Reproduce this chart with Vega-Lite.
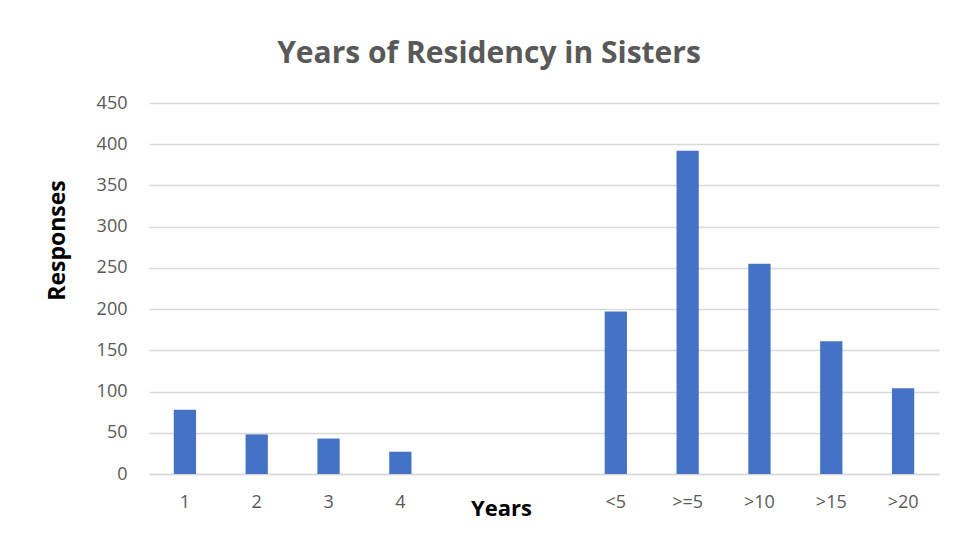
{
  "$schema": "https://vega.github.io/schema/vega-lite/v6.json",
  "width": 790,
  "height": 371,
  "autosize": "none",
  "padding": {"left": 149, "top": 103, "right": 17, "bottom": 70},
  "background": "white",
  "title": {
    "text": "Years of Residency in Sisters",
    "font": "Open Sans",
    "fontSize": 30,
    "fontWeight": "bold",
    "color": "#595959",
    "anchor": "middle",
    "dx": -55,
    "offset": 25
  },
  "data": {
    "values": [
      {"years": "1", "responses": 78},
      {"years": "2", "responses": 48},
      {"years": "3", "responses": 43},
      {"years": "4", "responses": 27},
      {"years": "<5", "responses": 197},
      {"years": ">=5", "responses": 392},
      {"years": ">10", "responses": 255},
      {"years": ">15", "responses": 161},
      {"years": ">20", "responses": 104}
    ]
  },
  "mark": {"type": "bar", "color": "#4472C4"},
  "encoding": {
    "x": {
      "field": "years",
      "type": "nominal",
      "sort": null,
      "scale": {
        "domain": ["1", "2", "3", "4", " ", "  ", "<5", ">=5", ">10", ">15", ">20"],
        "paddingInner": 0.69,
        "paddingOuter": 0.345
      },
      "axis": {
        "title": "Years",
        "titleFont": "Open Sans",
        "titleFontSize": 22,
        "titleFontWeight": "bold",
        "titleColor": "#000000",
        "titleX": 352,
        "titleY": 34,
        "titleBaseline": "middle",
        "labelAngle": 0,
        "labelFont": "Open Sans",
        "labelFontSize": 18,
        "labelColor": "#595959",
        "labelPadding": 19,
        "ticks": false,
        "domainColor": "#d9d9d9",
        "domainWidth": 1.5
      }
    },
    "y": {
      "field": "responses",
      "type": "quantitative",
      "scale": {"domain": [0, 450]},
      "axis": {
        "title": "Responses",
        "titleFont": "Open Sans",
        "titleFontSize": 23,
        "titleFontWeight": "bold",
        "titleColor": "#000000",
        "titleX": -92,
        "titleY": 137,
        "titleBaseline": "middle",
        "values": [0, 50, 100, 150, 200, 250, 300, 350, 400, 450],
        "labelFont": "Open Sans",
        "labelFontSize": 18,
        "labelColor": "#595959",
        "labelPadding": 22,
        "ticks": false,
        "domain": false,
        "gridColor": "#d9d9d9",
        "gridWidth": 1.5
      }
    }
  },
  "config": {"view": {"stroke": null}}
}
